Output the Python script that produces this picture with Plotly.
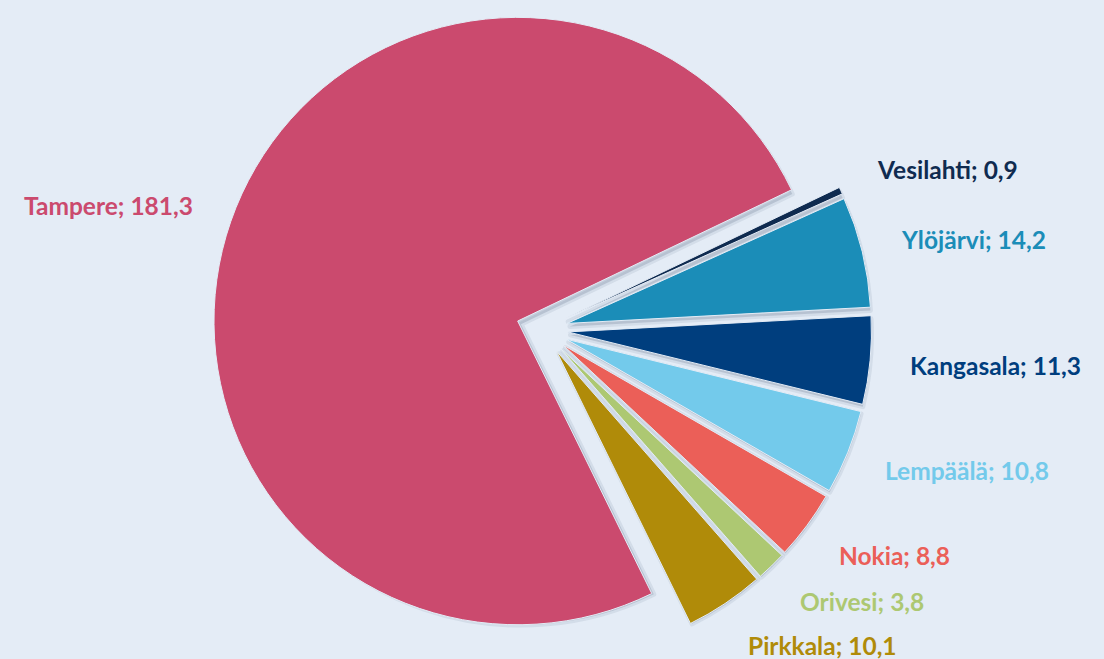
import math
import plotly.graph_objects as go

municipalities = ["Vesilahti", "Ylöjärvi", "Kangasala", "Lempäälä", "Nokia", "Orivesi", "Pirkkala", "Tampere"]
values = [0.9, 14.2, 11.3, 10.8, 8.8, 3.8, 10.1, 181.3]
colors = ["#0F2B50", "#1B8DB8", "#003E7E", "#73CAEB", "#EB5F58", "#ADC872", "#B08B09", "#CB4A6E"]

BG = "#E4ECF6"
PULL = 0.085
ROTATION = 64.4
W, H = 1104, 659
DOM_X = [0.191, 0.791]
DOM_Y = [0.0, 1.0]
FONT = "Lato"

fig = go.Figure()

# soft drop shadow underneath the slices
fig.add_trace(
    go.Pie(
        labels=municipalities,
        values=values,
        sort=False,
        direction="clockwise",
        rotation=ROTATION,
        pull=[PULL] * len(values),
        marker=dict(colors=["rgba(70,90,120,0.20)"] * len(values),
                    line=dict(color="rgba(70,90,120,0.10)", width=5)),
        textposition="none",
        domain=dict(x=[DOM_X[0] + 3 / W, DOM_X[1] + 3 / W], y=[0.0, 1.0 - 6 / H]),
        showlegend=False,
        hoverinfo="skip",
    )
)

fig.add_trace(
    go.Pie(
        labels=municipalities,
        values=values,
        sort=False,
        direction="clockwise",
        rotation=ROTATION,
        pull=[PULL] * len(values),
        marker=dict(colors=colors, line=dict(color=BG, width=1)),
        textposition="none",
        domain=dict(x=DOM_X, y=DOM_Y),
        showlegend=False,
        hoverinfo="label+value",
    )
)

# data labels placed just outside each slice along its bisector
cx = W * (DOM_X[0] + DOM_X[1]) / 2
cy = H * (1 - (DOM_Y[0] + DOM_Y[1]) / 2)
r = min(W * (DOM_X[1] - DOM_X[0]), H * (DOM_Y[1] - DOM_Y[0])) / 2 / (1 + PULL)
R = r * 1.21
total = sum(values)
start = 90 - ROTATION
cum = 0.0
for name, v, col in zip(municipalities, values, colors):
    mid = math.radians(start - (cum + v / 2) / total * 360)
    cum += v
    px = cx + R * math.cos(mid)
    py = cy - R * math.sin(mid)
    fig.add_annotation(
        x=px / W,
        y=1 - py / H,
        xref="paper",
        yref="paper",
        text=f"{name}; {v:.1f}".replace(".", ","),
        showarrow=False,
        xanchor="left" if math.cos(mid) >= 0 else "right",
        yanchor="middle",
        yshift=12 * math.sin(mid),
        font=dict(family=FONT, size=24.5, color=col, weight="bold"),
    )

fig.update_layout(
    width=W,
    height=H,
    margin=dict(l=0, r=0, t=0, b=0),
    paper_bgcolor=BG,
    plot_bgcolor=BG,
    separators=", ",
)

fig.write_html(
    "out.html",
    config={"displayModeBar": False},
    post_script="document.body.style.margin='0px';",
)
